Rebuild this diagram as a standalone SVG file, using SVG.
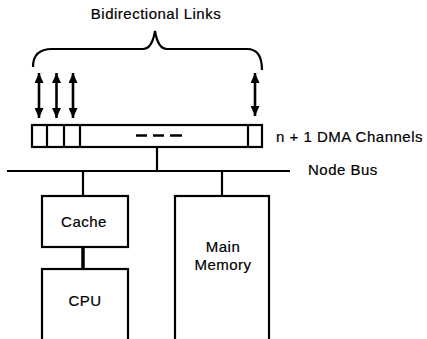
<svg xmlns="http://www.w3.org/2000/svg" width="427" height="339" viewBox="0 0 427 339">
  <defs>
    <marker id="head" viewBox="0 0 10 9" refX="10" refY="4.5" markerWidth="10" markerHeight="9" orient="auto-start-reverse" markerUnits="userSpaceOnUse">
      <path d="M0,0 L10,4.5 L0,9 z" fill="#000"/>
    </marker>
  </defs>
  <style>
    text { font-family: "Liberation Sans", Arial, sans-serif; font-size: 15px; letter-spacing: 0.5px; fill: #000; stroke: #000; stroke-width: 0.2px; }
    .box { fill: #fff; stroke: #000; stroke-width: 2.2; }
    .line { stroke: #000; stroke-width: 2.2; fill: none; }
    .dash { stroke: #000; stroke-width: 2.6; fill: none; }
    .thick { stroke: #000; stroke-width: 3.5; fill: none; }
    .link { stroke: #000; stroke-width: 2.6; fill: none; marker-start: url(#head); marker-end: url(#head); }
    .mid { text-anchor: middle; }
  </style>

  <!-- brace over the link arrows -->
  <g id="brace">
    <text x="156" y="19" class="mid">Bidirectional Links</text>
    <path class="line" d="M33,67 Q33,49 52,49 L143,49 Q152,49 155,31 Q158,49 167,49 L247,49 Q262,49 262,70"/>
  </g>

  <!-- connectors -->
  <g id="connectors">
    <line class="link" x1="39" y1="73" x2="39" y2="118"/>
    <line class="link" x1="56.5" y1="73" x2="56.5" y2="118"/>
    <line class="link" x1="73" y1="73" x2="73" y2="118"/>
    <line class="link" x1="255" y1="73" x2="255" y2="116"/>
    <line class="line" x1="157" y1="147" x2="157" y2="171"/>
    <line class="line" x1="83" y1="171" x2="83" y2="196"/>
    <line class="line" x1="222" y1="171" x2="222" y2="196"/>
    <line class="thick" x1="83" y1="247" x2="83" y2="269"/>
  </g>

  <g id="node-bus">
    <line class="line" x1="7" y1="171" x2="290" y2="171"/>
    <text x="308" y="175">Node Bus</text>
  </g>

  <g id="dma-channels">
    <rect class="box" x="32" y="125" width="230" height="22"/>
    <line class="line" x1="47" y1="125" x2="47" y2="147"/>
    <line class="line" x1="64" y1="125" x2="64" y2="147"/>
    <line class="line" x1="80" y1="125" x2="80" y2="147"/>
    <line class="line" x1="248" y1="125" x2="248" y2="147"/>
    <path class="dash" d="M136,135.5 h11 M153,135.5 h11 M170,135.5 h12"/>
    <text x="276" y="142">n + 1 DMA Channels</text>
  </g>

  <g id="cache">
    <rect class="box" x="42" y="196" width="86" height="51"/>
    <text x="84" y="227" class="mid">Cache</text>
  </g>

  <g id="cpu">
    <rect class="box" x="42" y="269" width="86" height="80"/>
    <text x="85" y="306" class="mid">CPU</text>
  </g>

  <g id="main-memory">
    <rect class="box" x="175" y="196" width="94" height="153"/>
    <text x="223" y="252" class="mid">Main</text>
    <text x="223" y="270" class="mid">Memory</text>
  </g>
</svg>
